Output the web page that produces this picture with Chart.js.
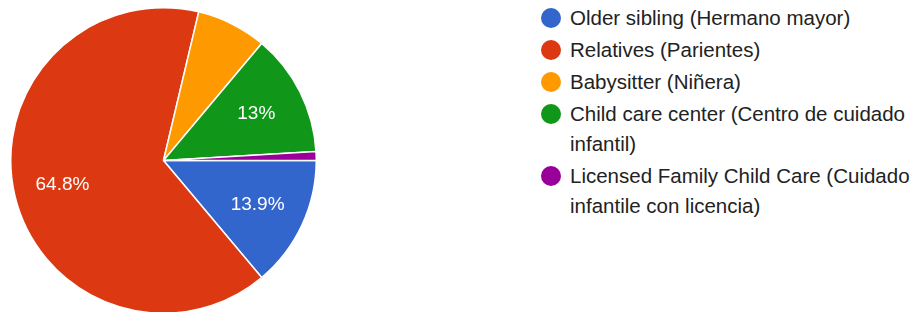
<!DOCTYPE html>
<html>
<head>
<meta charset="utf-8">
<script src="https://cdn.jsdelivr.net/npm/chart.js@4.4.1/dist/chart.umd.min.js"></script>
<style>
  html, body { margin: 0; padding: 0; background: #fff; }
  body { width: 916px; height: 312px; position: relative; overflow: hidden; font-family: Arial, "Liberation Sans", sans-serif; }
  #pieBox { position: absolute; left: 10px; top: 7px; width: 307px; height: 307px; }
  #legend { position: absolute; left: 541px; top: 3px; width: 372px; margin: 0; padding: 0; list-style: none; }
  #legend li { position: relative; padding-left: 29px; font-size: 20.5px; line-height: 30px; color: #222; margin-bottom: 2px; }
  #legend li span.dot { position: absolute; left: 0; top: 5px; width: 20px; height: 20px; border-radius: 50%; }
</style>
</head>
<body>
<div id="pieBox"><canvas id="myChart"></canvas></div>
<ul id="legend"></ul>
<script>
// datos del gráfico
const categorias = [
  'Older sibling (Hermano mayor)',
  'Relatives (Parientes)',
  'Babysitter (Niñera)',
  'Child care center (Centro de cuidado infantil)',
  'Licensed Family Child Care (Cuidado infantile con licencia)'
];
const respuestas = [15, 70, 8, 14, 1];
const colores = ['#3366cc', '#dc3912', '#ff9900', '#109618', '#990099'];

const total = respuestas.reduce((a, b) => a + b, 0);

function fmtPct(v) {
  return (v / total * 100).toFixed(1).replace(/\.0$/, '') + '%';
}

// plugin simple para los porcentajes dentro de las porciones
const etiquetas = {
  id: 'etiquetas',
  afterDatasetsDraw(chart) {
    const ctx = chart.ctx;
    const meta = chart.getDatasetMeta(0);
    ctx.save();
    ctx.fillStyle = '#ffffff';
    ctx.font = '19px Arial, "Liberation Sans", sans-serif';
    ctx.textAlign = 'center';
    ctx.textBaseline = 'middle';
    meta.data.forEach((arc, i) => {
      const v = respuestas[i];
      if (v / total < 0.1) return;
      const p = arc.getProps(['x', 'y', 'startAngle', 'endAngle', 'outerRadius']);
      const mid = (p.startAngle + p.endAngle) / 2;
      const r = p.outerRadius * 0.68;
      ctx.fillText(fmtPct(v), p.x + Math.cos(mid) * r, p.y + Math.sin(mid) * r);
    });
    ctx.restore();
  }
};

const ctx = document.getElementById('myChart').getContext('2d');
const myChart = new Chart(ctx, {
  type: 'pie',
  data: {
    labels: categorias,
    datasets: [{
      data: respuestas,
      backgroundColor: colores,
      borderColor: '#ffffff',
      borderWidth: 1.5
    }]
  },
  options: {
    responsive: true,
    maintainAspectRatio: false,
    animation: false,
    rotation: 90,
    layout: { padding: 0 },
    plugins: {
      legend: { display: false },
      tooltip: { enabled: false }
    }
  },
  plugins: [etiquetas]
});

// leyenda en HTML
const ul = document.getElementById('legend');
myChart.data.labels.forEach((lab, i) => {
  const li = document.createElement('li');
  const dot = document.createElement('span');
  dot.className = 'dot';
  dot.style.background = colores[i];
  li.appendChild(dot);
  li.appendChild(document.createTextNode(lab));
  ul.appendChild(li);
});
</script>
</body>
</html>
